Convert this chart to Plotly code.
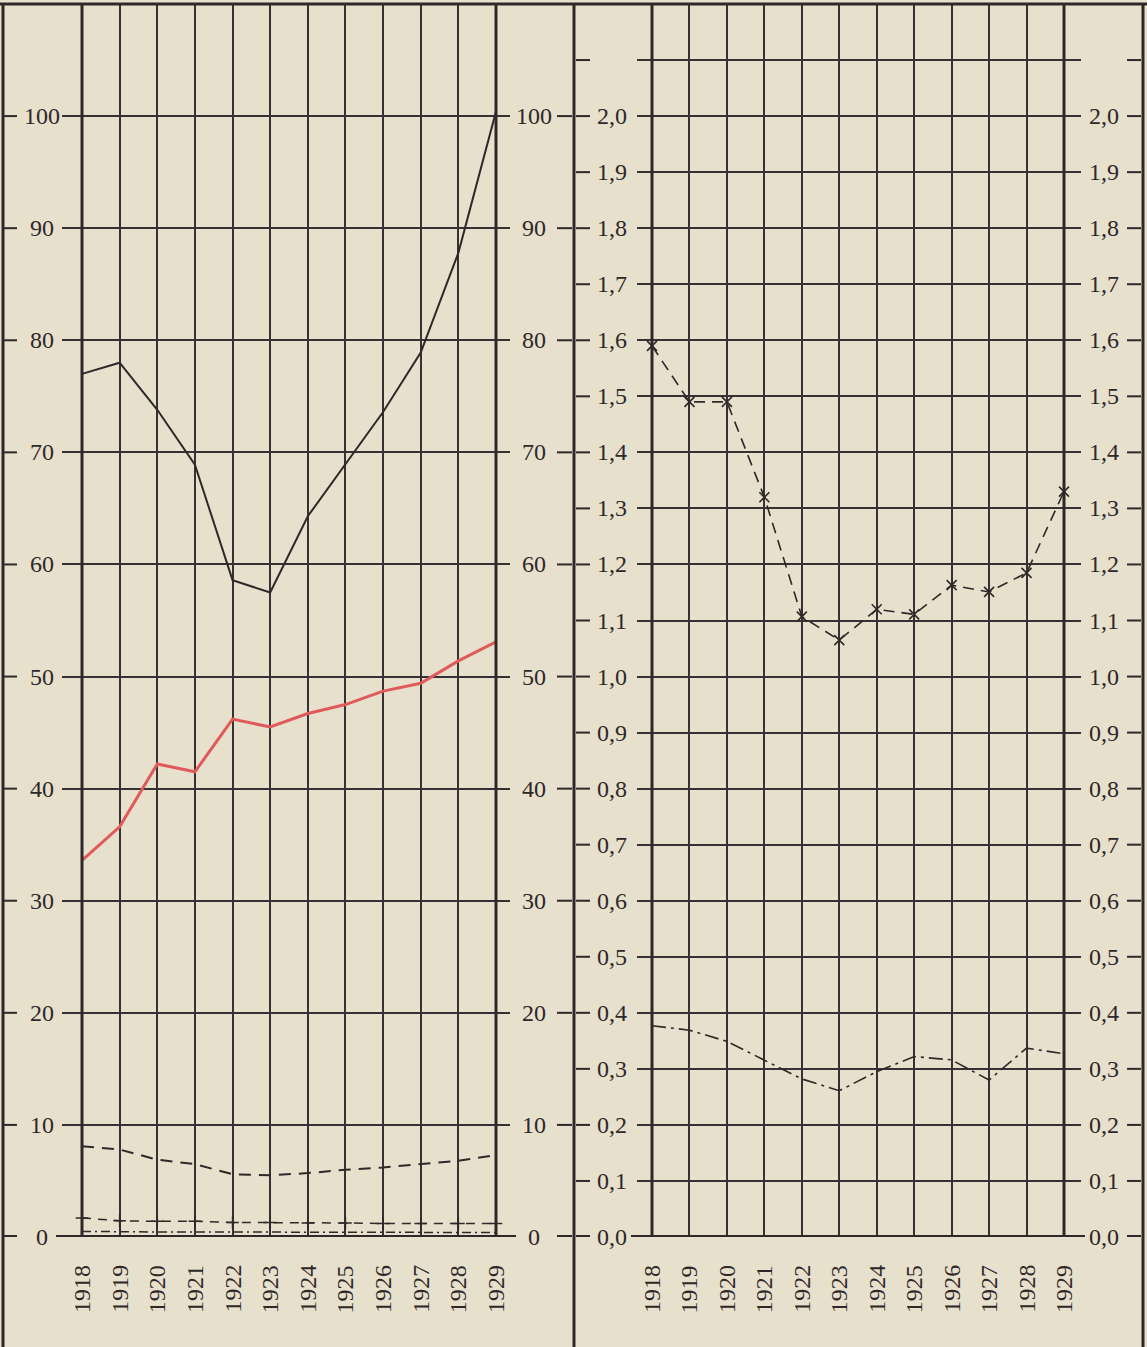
import plotly.graph_objects as go

# ---------------- data ----------------
years = list(range(1918, 1930))

# left panel (scale 0 - 100)
left_solid = [77.0, 78.0, 73.8, 68.9, 58.6, 57.5, 64.3, 69.0, 73.6, 78.9, 87.8, 100.4]
left_red = [33.6, 36.6, 42.2, 41.5, 46.2, 45.5, 46.7, 47.5, 48.7, 49.4, 51.4, 53.1]
left_dash = [8.1, 7.8, 6.9, 6.5, 5.6, 5.5, 5.7, 6.0, 6.2, 6.5, 6.8, 7.3]
left_dashplus = [1.7, 1.45, 1.4, 1.4, 1.3, 1.3, 1.25, 1.25, 1.2, 1.2, 1.2, 1.2]
left_dashdot = [0.5, 0.45, 0.45, 0.45, 0.45, 0.4, 0.4, 0.4, 0.4, 0.4, 0.4, 0.4]

# right panel (scale 0,0 - 2,0)
right_dashx = [1.59, 1.49, 1.49, 1.32, 1.107, 1.065, 1.12, 1.111, 1.163, 1.151, 1.185, 1.33]
right_dashdot = [0.377, 0.369, 0.349, 0.315, 0.282, 0.261, 0.295, 0.322, 0.316, 0.28, 0.337, 0.327]

left_ticks = [0, 10, 20, 30, 40, 50, 60, 70, 80, 90, 100]
left_tick_labels = ["0", "10", "20", "30", "40", "50", "60", "70", "80", "90", "100"]
right_ticks = [round(i * 0.1, 1) for i in range(21)]
right_tick_labels = [f"{v:.1f}".replace(".", ",") for v in right_ticks]
right_extra_ticks = [2.1]          # unlabeled line above 2,0
year_labels = [str(y) for y in years]

# ---------------- layout constants (pixels) ----------------
W, H = 1147, 1347
TOP_PX, ZERO_PX = 4, 1237
L_X0, L_X1, L_G0, L_G1 = 82, 496, 62, 510
R_X0, R_X1, R_G0, R_G1 = 652, 1064, 637, 1081
FRAME_X = [3, 574, 1143]
L_LAB_L, L_LAB_R = 42, 534
R_LAB_L, R_LAB_R = 612, 1104

PAPER = "#e7e0cc"
INK = "#2e2829"
GRID = "#363234"
RED = "#e05a5c"
FONT = "Liberation Serif"


def fx(px):
    return px / W


def fy(py):
    return 1 - py / H


def xrange_for(x0, x1, g0, g1):
    s = (x1 - x0) / (years[-1] - years[0])
    return [years[0] - (x0 - g0) / s, years[-1] + (g1 - x1) / s]


L_YMAX = 110
R_YMAX = 2.2

fig = go.Figure()

line_w = 2
fig.add_trace(go.Scatter(x=years, y=left_solid, mode="lines",
                         line=dict(color=INK, width=line_w), xaxis="x", yaxis="y"))
fig.add_trace(go.Scatter(x=years, y=left_red, mode="lines",
                         line=dict(color=RED, width=3), xaxis="x", yaxis="y"))
fig.add_trace(go.Scatter(x=years, y=left_dash, mode="lines",
                         line=dict(color=INK, width=line_w, dash="12px,8px"), xaxis="x", yaxis="y"))
fig.add_trace(go.Scatter(x=years, y=left_dashplus, mode="lines+markers",
                         line=dict(color=INK, width=1.5, dash="9px,7px"),
                         marker=dict(symbol="cross-thin", size=9, line=dict(color=INK, width=1.5)),
                         xaxis="x", yaxis="y"))
fig.add_trace(go.Scatter(x=years, y=left_dashdot, mode="lines",
                         line=dict(color=INK, width=1.5, dash="9px,4px,2px,4px"), xaxis="x", yaxis="y"))

fig.add_trace(go.Scatter(x=years, y=right_dashx, mode="lines+markers",
                         line=dict(color=INK, width=1.6, dash="11px,7px"),
                         marker=dict(symbol="x-thin", size=10, line=dict(color=INK, width=1.6)),
                         xaxis="x2", yaxis="y2"))
fig.add_trace(go.Scatter(x=years, y=right_dashdot, mode="lines",
                         line=dict(color=INK, width=1.6, dash="14px,5px,3px,5px"),
                         xaxis="x2", yaxis="y2"))

shapes = []
annotations = []

# frame
shapes.append(dict(type="line", xref="paper", yref="paper", x0=0, x1=1, y0=fy(TOP_PX), y1=fy(TOP_PX),
                   line=dict(color=INK, width=3)))
for px in FRAME_X:
    shapes.append(dict(type="line", xref="paper", yref="paper", x0=fx(px), x1=fx(px),
                       y0=fy(TOP_PX), y1=0, line=dict(color=INK, width=3)))

# heavy panel borders (first/last year lines)
for xa, ya in (("x", "y"), ("x2", "y2")):
    for yr in (years[0], years[-1]):
        shapes.append(dict(type="line", xref=xa, yref=ya + " domain", x0=yr, x1=yr, y0=0, y1=1,
                           line=dict(color=INK, width=3)))

# heavy zero lines
shapes.append(dict(type="line", xref="paper", yref="y", x0=fx(L_G0 - 6), x1=fx(L_G1 + 6), y0=0, y1=0,
                   line=dict(color=INK, width=4)))
shapes.append(dict(type="line", xref="paper", yref="y2", x0=fx(R_G0 - 6), x1=fx(R_G1 + 4), y0=0, y1=0,
                   line=dict(color=INK, width=4)))

# tick dashes & labels
lab_font = dict(family=FONT, size=24, color=INK)
for v, t in zip(left_ticks, left_tick_labels):
    for a, b in ((4, 17), (557, 572)):
        shapes.append(dict(type="line", xref="paper", yref="y", x0=fx(a), x1=fx(b), y0=v, y1=v,
                           line=dict(color=INK, width=2 if v else 4)))
    for cx in (L_LAB_L, L_LAB_R):
        annotations.append(dict(text=t, xref="paper", yref="y", x=fx(cx), y=v, showarrow=False,
                                xanchor="center", yanchor="middle", font=lab_font))
for v, t in list(zip(right_ticks, right_tick_labels)) + [(e, "") for e in right_extra_ticks]:
    for a, b in ((576, 590), (1127, 1141)):
        shapes.append(dict(type="line", xref="paper", yref="y2", x0=fx(a), x1=fx(b), y0=v, y1=v,
                           line=dict(color=INK, width=2 if v else 4)))
    if t:
        for cx in (R_LAB_L, R_LAB_R):
            annotations.append(dict(text=t, xref="paper", yref="y2", x=fx(cx), y=v, showarrow=False,
                                    xanchor="center", yanchor="middle", font=lab_font))

# year labels
for xa in ("x", "x2"):
    for yr, t in zip(years, year_labels):
        annotations.append(dict(text=t, xref=xa, yref="paper", x=yr, y=fy(ZERO_PX + 26),
                                showarrow=False, textangle=-90, xanchor="center", yanchor="top",
                                font=lab_font))

axis_common = dict(showline=False, zeroline=False, showticklabels=False, ticks="",
                   gridcolor=GRID, gridwidth=2, fixedrange=True)

fig.update_layout(
    width=W, height=H,
    margin=dict(l=0, r=0, t=0, b=0),
    paper_bgcolor=PAPER, plot_bgcolor=PAPER,
    showlegend=False,
    shapes=shapes, annotations=annotations,
    xaxis=dict(domain=[fx(L_G0), fx(L_G1)], range=xrange_for(L_X0, L_X1, L_G0, L_G1),
               tickvals=years, anchor="y", **axis_common),
    yaxis=dict(domain=[fy(ZERO_PX), fy(TOP_PX)], range=[0, L_YMAX], tickvals=left_ticks,
               anchor="x", **axis_common),
    xaxis2=dict(domain=[fx(R_G0), fx(R_G1)], range=xrange_for(R_X0, R_X1, R_G0, R_G1),
                tickvals=years, anchor="y2", **axis_common),
    yaxis2=dict(domain=[fy(ZERO_PX), fy(TOP_PX)], range=[0, R_YMAX],
                tickvals=right_ticks + right_extra_ticks, anchor="x2", **axis_common),
)

fig.write_html("out.html", config={"staticPlot": True},
               post_script="document.body.style.margin='0px';document.body.style.overflow='hidden';"
                           f"document.body.style.background='{PAPER}';")
